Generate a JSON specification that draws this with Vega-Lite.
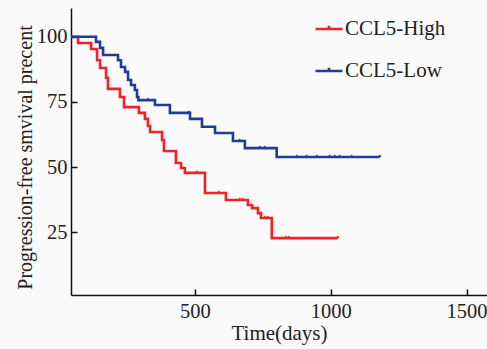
{
  "$schema": "https://vega.github.io/schema/vega-lite/v6.json",
  "width": 416,
  "height": 287,
  "autosize": {"type": "none"},
  "padding": {"left": 71, "top": 8, "right": 0, "bottom": 54},
  "background": "#fafafa",
  "config": {
    "view": {"stroke": null},
    "font": "Liberation Serif, Times New Roman, serif",
    "legend": {"labelFont": "Liberation Serif, Times New Roman, serif"},
    "axis": {"grid": false, "domainColor": "#111", "domainWidth": 1.5, "tickColor": "#111", "tickWidth": 1.5, "labelColor": "#222", "titleColor": "#222", "labelFont": "Liberation Serif, Times New Roman, serif", "titleFont": "Liberation Serif, Times New Roman, serif", "labelFontSize": 20.5, "titleFontSize": 21, "titleFontWeight": "normal"}
  },
  "datasets": {
    "curves": [
      {"group": "CCL5-High", "day": 0, "surv": 100},
      {"group": "CCL5-High", "day": 70, "surv": 97.6},
      {"group": "CCL5-High", "day": 118, "surv": 95.3},
      {"group": "CCL5-High", "day": 140, "surv": 91},
      {"group": "CCL5-High", "day": 151, "surv": 88},
      {"group": "CCL5-High", "day": 173, "surv": 84.2},
      {"group": "CCL5-High", "day": 180, "surv": 80},
      {"group": "CCL5-High", "day": 224, "surv": 76.9},
      {"group": "CCL5-High", "day": 239, "surv": 73},
      {"group": "CCL5-High", "day": 294, "surv": 70.8},
      {"group": "CCL5-High", "day": 316, "surv": 68.5},
      {"group": "CCL5-High", "day": 327, "surv": 65.8},
      {"group": "CCL5-High", "day": 335, "surv": 63.5},
      {"group": "CCL5-High", "day": 379, "surv": 60.4},
      {"group": "CCL5-High", "day": 386, "surv": 56.2},
      {"group": "CCL5-High", "day": 430, "surv": 51.6},
      {"group": "CCL5-High", "day": 449, "surv": 49.7},
      {"group": "CCL5-High", "day": 463, "surv": 47.8},
      {"group": "CCL5-High", "day": 537, "surv": 40.1},
      {"group": "CCL5-High", "day": 614, "surv": 37.4},
      {"group": "CCL5-High", "day": 695, "surv": 35.5},
      {"group": "CCL5-High", "day": 710, "surv": 34.3},
      {"group": "CCL5-High", "day": 732, "surv": 32.4},
      {"group": "CCL5-High", "day": 743, "surv": 30.5},
      {"group": "CCL5-High", "day": 783, "surv": 22.8},
      {"group": "CCL5-High", "day": 1026, "surv": 22.8},
      {"group": "CCL5-Low", "day": 0, "surv": 100},
      {"group": "CCL5-Low", "day": 136, "surv": 98},
      {"group": "CCL5-Low", "day": 151, "surv": 95.7},
      {"group": "CCL5-Low", "day": 162, "surv": 93},
      {"group": "CCL5-Low", "day": 217, "surv": 91},
      {"group": "CCL5-Low", "day": 228, "surv": 88.4},
      {"group": "CCL5-Low", "day": 243, "surv": 86.5},
      {"group": "CCL5-Low", "day": 254, "surv": 83.4},
      {"group": "CCL5-Low", "day": 265, "surv": 81.5},
      {"group": "CCL5-Low", "day": 279, "surv": 79.6},
      {"group": "CCL5-Low", "day": 287, "surv": 76.9},
      {"group": "CCL5-Low", "day": 292, "surv": 75.7},
      {"group": "CCL5-Low", "day": 353, "surv": 73.8},
      {"group": "CCL5-Low", "day": 408, "surv": 70.8},
      {"group": "CCL5-Low", "day": 482, "surv": 68.5},
      {"group": "CCL5-Low", "day": 526, "surv": 65.5},
      {"group": "CCL5-Low", "day": 574, "surv": 63.1},
      {"group": "CCL5-Low", "day": 640, "surv": 60},
      {"group": "CCL5-Low", "day": 684, "surv": 57.3},
      {"group": "CCL5-Low", "day": 801, "surv": 53.9},
      {"group": "CCL5-Low", "day": 1180, "surv": 53.9}
    ],
    "censor": [
      {"group": "CCL5-High", "day": 507, "surv": 47.8},
      {"group": "CCL5-High", "day": 588, "surv": 40.1},
      {"group": "CCL5-High", "day": 665, "surv": 37.4},
      {"group": "CCL5-High", "day": 676, "surv": 37.4},
      {"group": "CCL5-High", "day": 713, "surv": 34.3},
      {"group": "CCL5-High", "day": 757, "surv": 30.5},
      {"group": "CCL5-High", "day": 768, "surv": 30.5},
      {"group": "CCL5-High", "day": 835, "surv": 22.8},
      {"group": "CCL5-High", "day": 846, "surv": 22.8},
      {"group": "CCL5-High", "day": 1026, "surv": 22.8},
      {"group": "CCL5-Low", "day": 327, "surv": 75.7},
      {"group": "CCL5-Low", "day": 478, "surv": 70.8},
      {"group": "CCL5-Low", "day": 665, "surv": 60},
      {"group": "CCL5-Low", "day": 739, "surv": 57.3},
      {"group": "CCL5-Low", "day": 757, "surv": 57.3},
      {"group": "CCL5-Low", "day": 875, "surv": 53.9},
      {"group": "CCL5-Low", "day": 912, "surv": 53.9},
      {"group": "CCL5-Low", "day": 949, "surv": 53.9},
      {"group": "CCL5-Low", "day": 996, "surv": 53.9},
      {"group": "CCL5-Low", "day": 1015, "surv": 53.9},
      {"group": "CCL5-Low", "day": 1033, "surv": 53.9},
      {"group": "CCL5-Low", "day": 1077, "surv": 53.9},
      {"group": "CCL5-Low", "day": 1180, "surv": 53.9}
    ]
  },
  "layer": [
    {
      "data": {"name": "curves"},
      "mark": {"type": "line", "interpolate": "step-after", "strokeWidth": 2.6, "clip": true},
      "encoding": {
        "x": {"field": "day", "type": "quantitative", "scale": {"domain": [44, 1575], "nice": false, "zero": false},
          "axis": {"values": [500, 1000, 1500], "title": "Time(days)", "tickSize": -6, "labelPadding": 12, "titlePadding": 1, "format": "d"}},
        "y": {"field": "surv", "type": "quantitative", "scale": {"domain": [1, 111], "nice": false, "zero": false},
          "axis": {"values": [25, 50, 75, 100], "title": "Progression-free smvival precent", "titleFontSize": 20, "tickSize": -6, "labelPadding": 10, "titleX": -46, "titleY": 149, "titleBaseline": "middle", "titleAngle": -90}},
        "color": {"field": "group", "type": "nominal", "scale": {"domain": ["CCL5-High", "CCL5-Low"], "range": ["#ee2229", "#1f3c96"]},
          "legend": {"orient": "none", "legendX": 243, "legendY": 6, "title": null, "padding": 0, "symbolType": "M-1,0H1M0,0V-0.25", "symbolSize": 729, "symbolStrokeWidth": 2.6, "labelFontSize": 21, "labelColor": "#222", "labelOffset": 1, "rowPadding": 17}}
      }
    },
    {
      "data": {"name": "censor"},
      "mark": {"type": "point", "shape": "M-1,0L0,-1.3L1,0Z", "filled": true, "opacity": 1, "size": 16, "clip": true},
      "encoding": {
        "x": {"field": "day", "type": "quantitative"},
        "y": {"field": "surv", "type": "quantitative"},
        "color": {"field": "group", "type": "nominal", "legend": null}
      }
    }
  ]
}
